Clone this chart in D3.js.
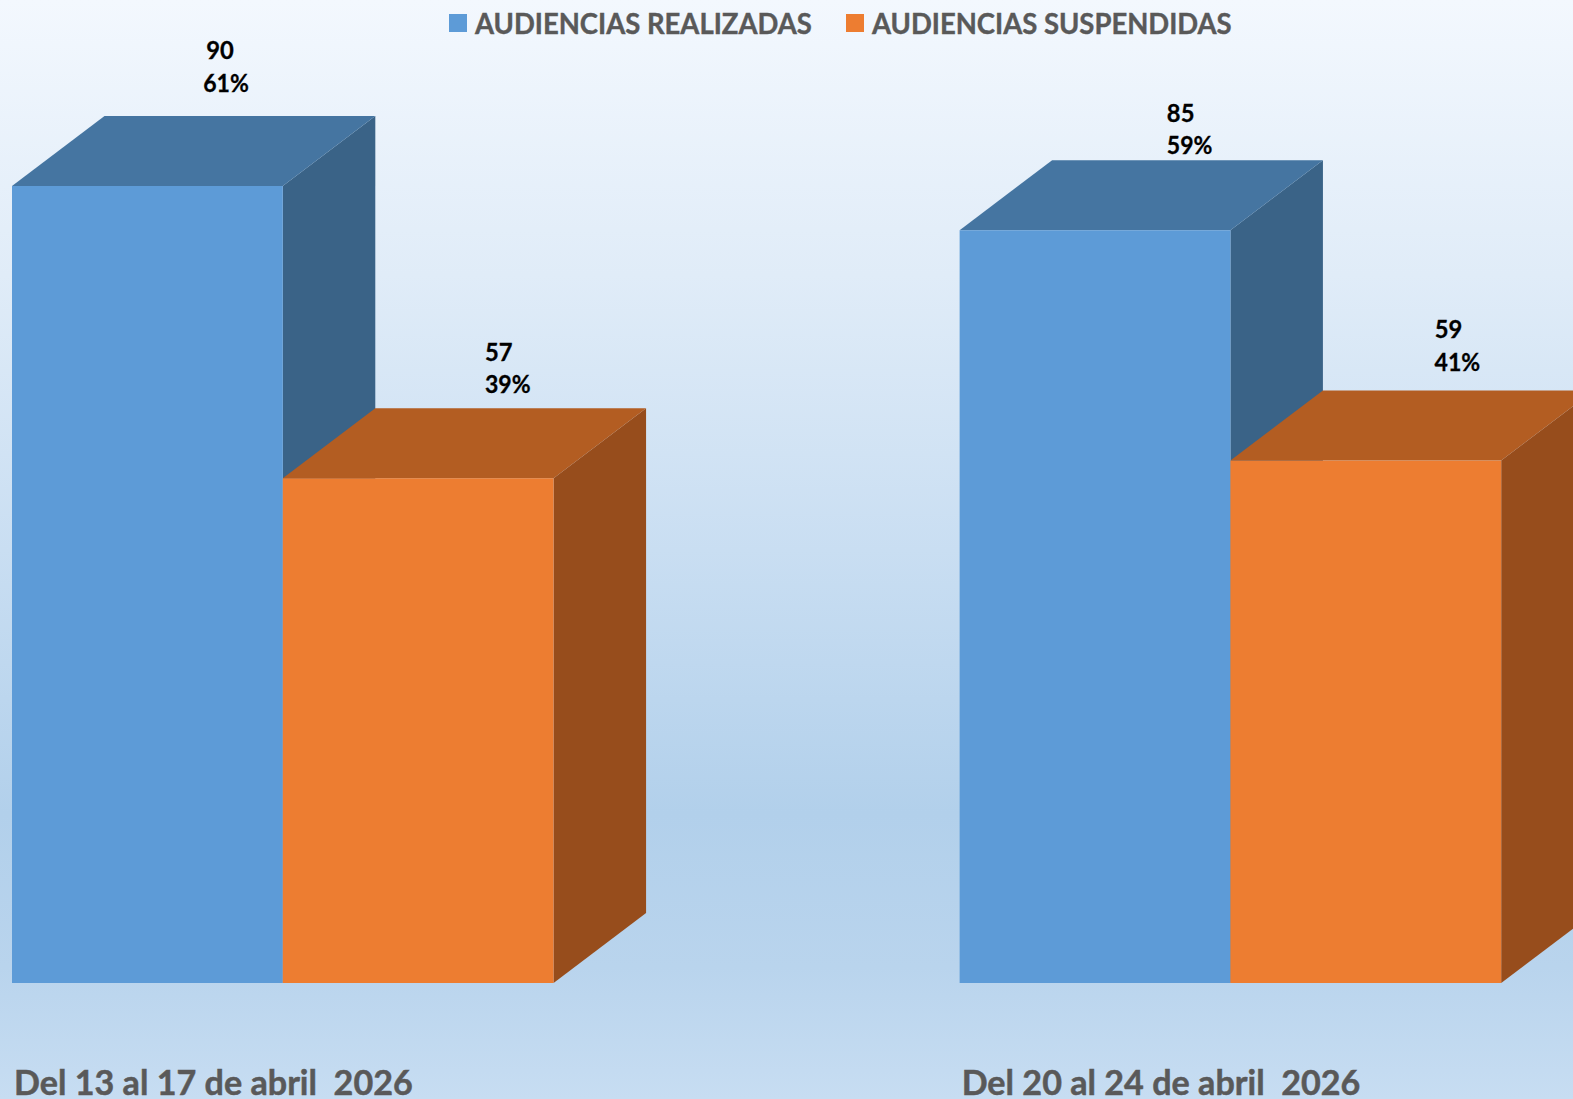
<!DOCTYPE html>
<html>
<head>
<meta charset="utf-8">
<script src="https://cdn.jsdelivr.net/npm/d3@7"></script>
<style>
  html, body { margin: 0; padding: 0; overflow: hidden; }
  svg { display: block; }
  text { font-family: Lato, "Open Sans", sans-serif; font-weight: 700; }
  .legendText { font-size: 28px; fill: #595959; stroke: #595959; stroke-width: 0.4px; }
  .valueText { font-size: 24.5px; fill: #000; stroke: #000; stroke-width: 0.3px; }
  .tick text { font-size: 35px; fill: #595959; stroke: #595959; stroke-width: 0.5px; white-space: pre; }
</style>
</head>
<body>
<div class="chart"></div>
<script>
var svgWidth = 1573;
var svgHeight = 1099;

// chart values
var categories = ["Del 13 al 17 de abril  2026", "Del 20 al 24 de abril  2026"];
var seriesNames = ["AUDIENCIAS REALIZADAS", "AUDIENCIAS SUSPENDIDAS"];
var realizadas = [90, 85];
var suspendidas = [57, 59];
var realizadasPct = ["61%", "59%"];
var suspendidasPct = ["39%", "41%"];

// fill colours: front, top, side
var blueFaces = ["#5d9bd7", "#4575a1", "#3a6387"];
var orangeFaces = ["#ed7d31", "#b35d22", "#974d1c"];

// the labels were moved by hand in the original, [value dx, pct dx, dy] from the bar's top left corner
var realizadasNudge = [[208, 214, -127], [221, 230, -108.5]];
var suspendidasNudge = [[216, 225, -117.5], [218, 227, -122.5]];

var depth = { x: 92.5, y: 70 };

var svg = d3
  .select(".chart")
  .append("svg")
  .attr("width", svgWidth)
  .attr("height", svgHeight);

// page background
var grad = svg.append("defs").append("linearGradient")
  .attr("id", "bg")
  .attr("x1", 0).attr("y1", 0).attr("x2", 0).attr("y2", 1);
[[0, "#f3f8fe"], [0.25, "#e0ecf8"], [0.5, "#c9def2"], [0.74, "#b2d0eb"], [0.88, "#b9d4ed"], [1, "#c7ddf2"]]
  .forEach(s => grad.append("stop").attr("offset", s[0]).attr("stop-color", s[1]));
svg.append("rect")
  .attr("width", svgWidth)
  .attr("height", svgHeight)
  .attr("fill", "url(#bg)");

// scales
var xScale = d3.scaleBand()
  .domain(categories)
  .range([12, 1501.2])
  .paddingInner(0.4285)
  .paddingOuter(0);

var seriesScale = d3.scaleBand()
  .domain(seriesNames)
  .range([0, xScale.bandwidth()]);

var yScale = d3.scaleLinear()
  .domain([0, 90])
  .range([983, 186]);

// flatten to one row per bar
var bars = [];
categories.forEach((c, i) => {
  bars.push({ cat: c, series: seriesNames[0], value: realizadas[i], pct: realizadasPct[i], faces: blueFaces, nudge: realizadasNudge[i] });
  bars.push({ cat: c, series: seriesNames[1], value: suspendidas[i], pct: suspendidasPct[i], faces: orangeFaces, nudge: suspendidasNudge[i] });
});

function barLeft(d) { return xScale(d.cat) + seriesScale(d.series); }
function pts(list) { return list.map(p => p.join(",")).join(" "); }

// Lato runs wider than the original font, squeeze a text to a share of its width
function squeeze(selection, share) {
  selection.each(function() {
    d3.select(this)
      .attr("textLength", this.getComputedTextLength() * share)
      .attr("lengthAdjust", "spacingAndGlyphs");
  });
}

var barGroup = svg.append("g").selectAll("g")
  .data(bars)
  .enter()
  .append("g");

// side face
barGroup.append("polygon")
  .attr("fill", d => d.faces[2])
  .attr("points", d => {
    var r = barLeft(d) + seriesScale.bandwidth();
    return pts([[r, yScale(d.value)], [r + depth.x, yScale(d.value) - depth.y], [r + depth.x, yScale(0) - depth.y], [r, yScale(0)]]);
  });

// top face
barGroup.append("polygon")
  .attr("fill", d => d.faces[1])
  .attr("points", d => {
    var l = barLeft(d);
    var r = l + seriesScale.bandwidth();
    var t = yScale(d.value);
    return pts([[l, t], [l + depth.x, t - depth.y], [r + depth.x, t - depth.y], [r, t]]);
  });

// front face
barGroup.append("rect")
  .attr("fill", d => d.faces[0])
  .attr("x", barLeft)
  .attr("y", d => yScale(d.value))
  .attr("width", seriesScale.bandwidth())
  .attr("height", d => yScale(0) - yScale(d.value));

// value and percent labels
barGroup.append("text")
  .attr("class", "valueText")
  .attr("text-anchor", "middle")
  .attr("x", d => barLeft(d) + d.nudge[0])
  .attr("y", d => yScale(d.value) + d.nudge[2])
  .text(d => d.value)
  .call(squeeze, 0.97);

barGroup.append("text")
  .attr("class", "valueText")
  .attr("text-anchor", "middle")
  .attr("x", d => barLeft(d) + d.nudge[1])
  .attr("y", d => yScale(d.value) + d.nudge[2] + 32.5)
  .text(d => d.pct)
  .call(squeeze, 0.94);

// category axis, labels start at the bar's left edge
var bottomAxis = d3.axisBottom(xScale).tickSize(0).tickPadding(0);
var xAxis = svg.append("g")
  .attr("transform", "translate(0,1070)")
  .call(bottomAxis);
xAxis.select(".domain").remove();
xAxis.selectAll("text")
  .attr("text-anchor", "start")
  .attr("x", -xScale.bandwidth() / 2 + 2)
  .attr("y", 0)
  .attr("dy", "0.71em")
  .call(squeeze, 0.975);

// legend
var legendX = [449, 846];
var legend = svg.append("g").selectAll("g")
  .data(seriesNames)
  .enter()
  .append("g")
  .attr("transform", (d, i) => `translate(${legendX[i]},14)`);

legend.append("rect")
  .attr("width", 18)
  .attr("height", 18)
  .attr("fill", (d, i) => i == 0 ? blueFaces[0] : orangeFaces[0]);

legend.append("text")
  .attr("class", "legendText")
  .attr("x", 26)
  .attr("y", 19.5)
  .text(d => d)
  .call(squeeze, 0.98);
</script>
</body>
</html>
